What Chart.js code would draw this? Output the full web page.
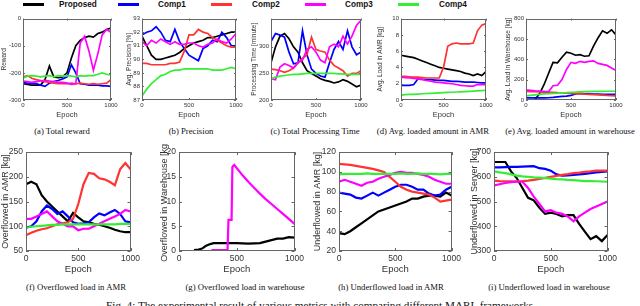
<!DOCTYPE html>
<html>
<head>
<meta charset="utf-8">
<script src="https://cdn.jsdelivr.net/npm/chart.js@4.4.1/dist/chart.umd.min.js"></script>
<style>
  body { margin: 0; width: 640px; height: 306px; overflow: hidden; background: #fff; position: relative; font-family: "Liberation Sans", Arial, sans-serif; }
  .panel { position: absolute; }
  .cap { position: absolute; font-family: "Liberation Serif", "Times New Roman", serif; font-size: 8.7px; line-height: 10px; color: #111; white-space: nowrap; transform: translateX(-50%); }
  .leg-line { position: absolute; height: 3px; top: 3px; width: 21px; }
  .leg-text { position: absolute; top: 0; font-weight: bold; font-size: 8.2px; line-height: 10px; color: #111; }
  #figcap { position: absolute; left: 321px; top: 299px; transform: translateX(-50%); font-family: "Liberation Serif", "Times New Roman", serif; font-size: 11.2px; line-height: 12px; white-space: nowrap; color: #111; }
</style>
</head>
<body>
<div id="legend"></div>
<div id="figcap">Fig. 4: The experimental result of various metrics with comparing different MARL frameworks.</div>
<script>
const epochs = [0,50,100,150,200,250,300,350,400,450,500,550,600,650,700,750,800,850,900,950,1000];
const seriesNames = ['Proposed', 'Comp1', 'Comp2', 'Comp3', 'Comp4'];
const seriesColors = ['#000000', '#0000ff', '#ff3333', '#ff00ff', '#33ee33'];

// (a) total reward
const rewardProposed = [-240,-243,-245,-245,-245,-225,-175,-215,-218,-215,-200,-145,-100,-80,-70,-65,-68,-55,-50,-40,-35];
const rewardComp1 = [-235,-238,-240,-240,-245,-250,-238,-232,-228,-222,-215,-170,-200,-240,-242,-245,-245,-245,-248,-248,-250];
const rewardComp2 = [-215,-210,-220,-225,-228,-232,-235,-238,-240,-240,-240,-238,-240,-238,-240,-242,-240,-242,-240,-238,-225];
const rewardComp3 = [-230,-232,-235,-232,-230,-228,-230,-232,-235,-235,-238,-242,-240,-90,-65,-120,-190,-130,-60,-40,-50];
const rewardComp4 = [-220,-212,-210,-212,-215,-212,-210,-215,-210,-212,-210,-212,-215,-210,-212,-210,-210,-205,-200,-205,-208];

// (b) precision
const precProposed = [91.7,91.0,90.3,90.0,90.0,90.1,90.2,90.3,90.5,90.8,91.0,91.2,91.3,91.4,91.6,91.6,91.7,91.8,91.9,92.0,92.0];
const precComp1 = [91.8,92.0,92.1,92.4,92.0,91.4,91.3,92.2,91.3,90.8,90.3,90.1,89.9,90.8,91.0,91.4,91.3,92.0,91.6,91.0,91.0];
const precComp2 = [89.7,89.7,89.6,89.6,89.6,89.6,89.7,89.7,89.8,90.6,91.8,91.8,92.2,92.0,91.9,91.6,91.4,91.2,91.0,90.9,90.9];
const precComp3 = [91.3,91.0,91.4,91.2,91.5,91.3,91.1,91.3,91.1,91.1,91.2,91.2,91.0,90.9,91.1,91.2,91.5,91.3,91.2,91.5,91.9];
const precComp4 = [87.3,87.8,88.2,88.5,88.8,88.9,89.1,89.2,89.2,89.3,89.3,89.3,89.3,89.3,89.3,89.2,89.2,89.2,89.3,89.4,89.3];

// (c) total processing time
const timeProposed = [270,300,320,325,315,300,290,270,255,250,245,240,237,235,232,234,238,235,230,225,228];
const timeComp1 = [310,325,322,318,290,268,270,330,285,258,250,245,243,270,295,310,295,330,300,285,290];
const timeComp2 = [258,257,255,252,255,260,270,278,285,318,295,292,290,275,265,260,255,245,250,250,255];
const timeComp3 = [240,238,262,268,265,260,270,275,295,300,290,275,270,300,305,300,320,305,320,340,350];
const timeComp4 = [240,243,245,246,247,248,248,249,250,250,250,250,250,250,250,249,249,248,248,248,248];

// (d) avg. load in AMR
const amrProposed = [5.5,5.4,5.3,5.2,5.0,4.8,4.6,4.4,4.2,4.0,3.9,3.8,3.7,3.6,3.5,3.3,3.2,3.0,3.2,3.0,3.5];
const amrComp1 = [1.8,1.8,1.8,1.9,2.6,2.55,2.5,2.5,2.45,2.4,2.4,2.35,2.3,2.3,2.25,2.2,2.2,2.2,2.15,2.1,2.1];
const amrComp2 = [2.9,2.9,2.85,2.8,2.8,2.75,2.7,2.7,2.7,2.7,4.0,6.6,6.9,7.0,6.9,6.9,6.9,7.0,8.5,9.2,9.4];
const amrComp3 = [2.8,2.75,2.7,2.65,2.6,2.5,2.4,2.3,2.2,2.15,2.1,2.05,2.0,1.9,1.8,1.75,1.7,1.7,1.9,1.9,1.9];
const amrComp4 = [0.6,0.65,0.68,0.7,0.73,0.77,0.8,0.82,0.85,0.88,0.9,0.93,0.95,0.98,1.0,1.03,1.06,1.1,1.13,1.16,1.2];

// (e) avg. load in warehouse
const whProposed = [0,0,5,60,150,260,370,365,420,470,460,440,445,430,435,530,610,680,655,690,640];
const whComp1 = [20,20,20,20,20,22,25,30,35,38,45,60,65,60,60,58,57,56,55,55,55];
const whComp2 = [85,83,82,80,78,77,75,72,70,67,65,62,60,57,55,52,50,48,45,43,40];
const whComp3 = [100,95,90,88,85,80,140,145,200,300,370,360,380,370,380,385,360,350,340,315,290];
const whComp4 = [40,45,50,55,60,62,65,67,70,72,75,77,80,82,83,84,85,85,86,86,86];

// (f) overflowed load in AMR
const ofAmrProposed = [185,190,185,163,150,140,130,120,110,127,118,110,108,105,103,100,97,93,90,88,88];
const ofAmrComp1 = [97,100,110,130,142,135,125,130,120,108,105,106,108,118,126,122,128,133,125,110,108];
const ofAmrComp2 = [82,87,91,94,96,100,104,106,108,115,145,185,208,206,197,195,190,183,215,228,215];
const ofAmrComp3 = [115,115,120,125,130,120,110,105,100,100,92,95,95,100,105,110,115,120,125,133,130];
const ofAmrComp4 = [98,99,100,101,102,103,103,104,104,104,104,104,104,104,104,104,104,104,105,105,105];

// (g) overflowed load in warehouse (Proposed and Comp3 start later)
const ofWhEpochsProposed = [130,170,200,230,270,300,400,500,600,700,750,800,850,900,950,1000];
const ofWhProposed = [0.2,0.3,0.5,1.0,1.4,1.6,1.6,1.6,1.5,1.6,1.9,2.2,2.5,2.5,2.8,2.7];
const ofWhComp1 = [0,0,0,0,0,0,0,0,0,0,0,0,0,0,0,0,0,0,0,0,0];
const ofWhComp2 = [0,0,0,0,0,0,0,0,0,0,0,0,0,0,0,0,0,0,0,0,0];
const ofWhEpochsComp3 = [280,420,428,455,462,478,550,600,650,700,750,800,850,900,950,1000];
const ofWhComp3 = [0.2,0.2,6.3,6.3,17.0,17.4,15.3,14.0,12.8,11.6,10.5,9.5,8.5,7.5,6.5,5.5];
const ofWhComp4 = [0,0,0,0,0,0,0,0,0,0,0,0,0,0,0,0,0,0,0,0,0];

// (h) underflowed load in AMR
const ufAmrProposed = [38,37,40,44,48,52,56,60,62,64,66,68,70,73,73,75,76,76,75,79,76];
const ufAmrComp1 = [79,78,77,74,73,76,79,76,79,82,85,87,87,85,82,82,78,76,77,82,85];
const ufAmrComp2 = [108,107.5,107,106,105,104,103,101.5,100,95,90,85,82,80,79,78,77,74,70,71,72];
const ufAmrComp3 = [90,92,90,88,86,89,90,93,95,97,99,100,99,99,98,97,95,92,90,88,88];
const ufAmrComp4 = [97.5,98,98,98,98,98.5,98,98,98,98,98,98.5,98,98,98.5,98,98,98,97.5,98,98];

// (i) underflowed load in warehouse
const ufWhProposed = [660,660,660,622,595,555,515,505,475,450,455,450,440,445,445,410,378,348,360,340,365];
const ufWhComp1 = [638,638,639,640,640,641,642,643,635,632,625,610,605,606,608,610,612,615,618,620,622];
const ufWhComp2 = [585,583,582,582,582,583,585,588,592,596,600,604,608,611,615,617,620,622,625,625,625];
const ufWhComp3 = [565,570,575,578,580,580,555,520,490,460,465,455,450,440,420,440,455,470,480,490,500];
const ufWhComp4 = [622,618,615,610,605,602,600,598,597,595,593,591,590,588,587,585,583,583,582,581,580];

const FONT = '"Liberation Sans", Arial, sans-serif';
const PAD_T = 5, PAD_R = 12;

function pts(xs, ys) {
    return xs.map((x, i) => ({ x: x, y: ys[i] }));
}

// box round the plot area plus MATLAB-like inward ticks
const boxPlugin = {
    id: 'box',
    afterDatasetsDraw(chart, args, opts) {
        const { ctx, chartArea: a, scales } = chart;
        const t = opts.tick || 2;
        ctx.save();
        ctx.strokeStyle = '#666';
        ctx.lineWidth = 1;
        ctx.strokeRect(Math.round(a.left) + 0.5, Math.round(a.top) + 0.5, Math.round(a.width) - 1, Math.round(a.height) - 1);
        ctx.beginPath();
        scales.x.ticks.forEach(tk => {
            const px = Math.round(scales.x.getPixelForValue(tk.value)) + 0.5;
            ctx.moveTo(px, a.bottom); ctx.lineTo(px, a.bottom - t);
            ctx.moveTo(px, a.top); ctx.lineTo(px, a.top + t);
        });
        scales.y.ticks.forEach(tk => {
            const py = Math.round(scales.y.getPixelForValue(tk.value)) + 0.5;
            ctx.moveTo(a.left, py); ctx.lineTo(a.left + t, py);
            ctx.moveTo(a.right, py); ctx.lineTo(a.right - t, py);
        });
        ctx.stroke();
        ctx.restore();
    }
};

const topRow = { plotTop: 18, plotH: 82, xH: 19, tickSize: 6, tickPad: 2, xTitle: 7.5, yTitle: 6.5, lw: 1.7, tick: 2 };
const botRow = { plotTop: 149, plotH: 102, xH: 24, tickSize: 8.5, tickPad: 3, xTitle: 9.5, yTitle: 9, lw: 2.2, tick: 3 };

const panels = [
    { row: topRow, plotLeft: 23, plotW: 88, yW: 23, yMin: -300, yMax: 0, yStep: 100, yLabel: 'Reward',
      caption: '(a) Total reward', capX: 62,
      series: [rewardProposed, rewardComp1, rewardComp2, rewardComp3, rewardComp4] },
    { row: topRow, plotLeft: 142, plotW: 94, yW: 17, yMin: 87, yMax: 93, yStep: 1, yLabel: 'Avg. Precision [%]',
      caption: '(b) Precision', capX: 191,
      series: [precProposed, precComp1, precComp2, precComp3, precComp4] },
    { row: topRow, plotLeft: 271, plotW: 90, yW: 21, yMin: 200, yMax: 353, yStep: 50, yLabel: 'Processing Time [minute]',
      caption: '(c) Total Processing Time', capX: 315,
      series: [timeProposed, timeComp1, timeComp2, timeComp3, timeComp4] },
    { row: topRow, plotLeft: 401, plotW: 85, yW: 25, yMin: 0, yMax: 10, yStep: 2, yLabel: 'Avg. Load in AMR [kg]',
      caption: '(d) Avg. loaded amount in AMR', capX: 433,
      series: [amrProposed, amrComp1, amrComp2, amrComp3, amrComp4] },
    { row: topRow, plotLeft: 526, plotW: 90, yW: 22, yMin: 0, yMax: 800, yStep: 200, yLabel: 'Avg. Load in Warehouse [kg]',
      caption: '(e) Avg. loaded amount in warehouse', capX: 570,
      series: [whProposed, whComp1, whComp2, whComp3, whComp4] },
    { row: botRow, plotLeft: 26, plotW: 105, yW: 26, yMin: 50, yMax: 250, yStep: 50, yLabel: 'Overflowed in AMR [kg]',
      caption: '(f) Overflowed load in AMR', capX: 76,
      series: [ofAmrProposed, ofAmrComp1, ofAmrComp2, ofAmrComp3, ofAmrComp4] },
    { row: botRow, plotLeft: 179, plotW: 116, yW: 20, yMin: 0, yMax: 20, yStep: 5, yLabel: 'Overflowed in Warehouse [kg]',
      caption: '(g) Overflowed load in warehouse', capX: 245,
      series: [pts(ofWhEpochsProposed, ofWhProposed), ofWhComp1, ofWhComp2, pts(ofWhEpochsComp3, ofWhComp3), ofWhComp4] },
    { row: botRow, plotLeft: 339, plotW: 113, yW: 27, yMin: 20, yMax: 120, yStep: 20, yLabel: 'Underflowed in AMR [kg]',
      caption: '(h) Underflowed load in AMR', capX: 391,
      series: [ufAmrProposed, ufAmrComp1, ufAmrComp2, ufAmrComp3, ufAmrComp4] },
    { row: botRow, plotLeft: 494, plotW: 114, yW: 25, yMin: 300, yMax: 700, yStep: 100, yLabel: 'Underflowed in Server [kg]',
      caption: '(i) Underflowed load in warehouse', capX: 549,
      series: [ufWhProposed, ufWhComp1, ufWhComp2, ufWhComp3, ufWhComp4] }
];

function makePanel(p) {
    const r = p.row;
    const w = p.yW + p.plotW + PAD_R;
    const h = PAD_T + r.plotH + r.xH;
    const div = document.createElement('div');
    div.className = 'panel';
    div.style.left = (p.plotLeft - p.yW) + 'px';
    div.style.top = (r.plotTop - PAD_T) + 'px';
    const canvas = document.createElement('canvas');
    canvas.width = w;
    canvas.height = h;
    div.appendChild(canvas);
    document.body.appendChild(div);

    const cap = document.createElement('div');
    cap.className = 'cap';
    cap.textContent = p.caption;
    cap.style.left = p.capX + 'px';
    cap.style.top = (r === topRow ? 126 : 282) + 'px';
    document.body.appendChild(cap);

    const datasets = p.series.map((s, i) => ({
        label: seriesNames[i],
        data: (s.length && typeof s[0] === 'object') ? s : pts(epochs, s),
        borderColor: seriesColors[i],
        borderWidth: r.lw,
        pointRadius: 0,
        tension: 0,
        fill: false,
        order: 5 - i
    }));

    new Chart(canvas, {
        type: 'line',
        data: { datasets: datasets },
        options: {
            responsive: false,
            animation: false,
            events: [],
            layout: { padding: { top: PAD_T, right: PAD_R, left: 0, bottom: 0 } },
            plugins: { legend: { display: false }, tooltip: { enabled: false }, box: { tick: r.tick } },
            scales: {
                x: {
                    type: 'linear', min: 0, max: 1000,
                    grid: { display: false, drawTicks: false },
                    border: { display: false },
                    ticks: { stepSize: 500, padding: r.tickPad, color: '#333', maxRotation: 0,
                             font: { size: r.tickSize, family: FONT }, callback: v => String(v) },
                    title: { display: true, text: 'Epoch', padding: 0, color: '#333',
                             font: { size: r.xTitle, family: FONT } },
                    afterFit: s => { s.height = r.xH; }
                },
                y: {
                    type: 'linear', min: p.yMin, max: p.yMax,
                    grid: { display: false, drawTicks: false },
                    border: { display: false },
                    ticks: { stepSize: p.yStep, padding: r.tickPad, color: '#333',
                             font: { size: r.tickSize, family: FONT }, callback: v => String(v) },
                    title: { display: true, text: p.yLabel, padding: 0, color: '#333',
                             font: { size: r.yTitle, family: FONT } },
                    afterBuildTicks: s => {
                        s.ticks = s.ticks.filter(t => Math.abs(((t.value - p.yMin) / p.yStep) - Math.round((t.value - p.yMin) / p.yStep)) < 1e-6);
                    },
                    afterFit: s => { s.width = p.yW; }
                }
            }
        },
        plugins: [boxPlugin]
    });
}

panels.forEach(makePanel);

// legend across the top
const legendLineX = [23, 118, 211, 305, 398];
const legendTextX = [59, 158, 252, 345, 439];
const legend = document.getElementById('legend');
seriesNames.forEach((name, i) => {
    const line = document.createElement('div');
    line.className = 'leg-line';
    line.style.left = legendLineX[i] + 'px';
    line.style.background = seriesColors[i];
    legend.appendChild(line);
    const txt = document.createElement('div');
    txt.className = 'leg-text';
    txt.style.left = legendTextX[i] + 'px';
    txt.textContent = name;
    legend.appendChild(txt);
});
</script>
</body>
</html>
